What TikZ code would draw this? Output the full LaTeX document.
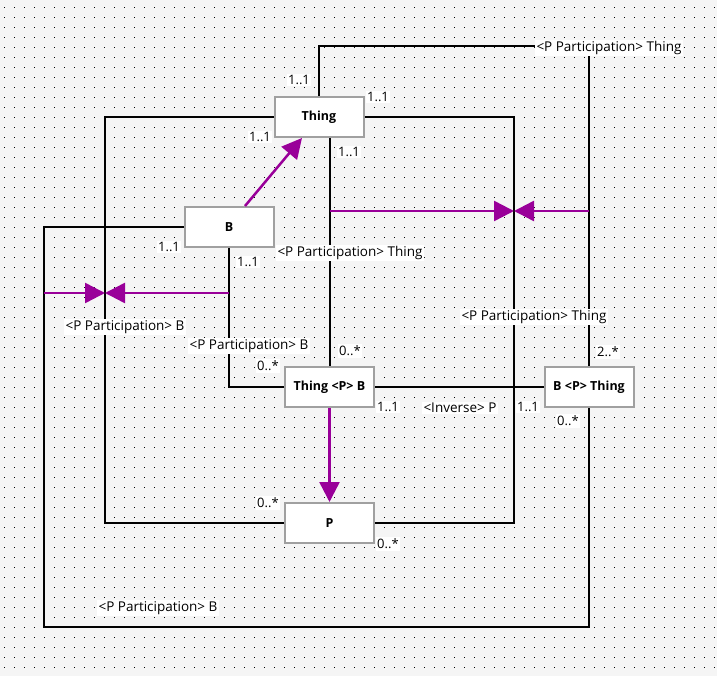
\documentclass[tikz,border=0pt]{standalone}
\usepackage{fontspec}
\setmainfont{Open Sans}
\usetikzlibrary{arrows.meta}

\definecolor{canvas}{RGB}{245,245,245}
\definecolor{assoc}{RGB}{153,0,153}
\definecolor{frame}{RGB}{160,160,160}

\tikzset{
  entity/.style={draw=frame,line width=2pt,fill=white,minimum width=89pt,minimum height=40pt,inner sep=0pt,font=\fontsize{12.5}{14}\selectfont\bfseries},
  mult/.style={fill=white,inner sep=1.5pt,font=\fontsize{13}{15}\selectfont},
  role/.style={fill=white,inner sep=1.5pt,font=\fontsize{13.5}{15}\selectfont},
  link/.style={draw=black,line width=2pt},
  inherit/.style={draw=assoc,line width=2.5pt,-{Triangle[length=20pt,width=20pt]}}
}

\begin{document}
\begin{tikzpicture}[x=1pt,y=-1pt]
           \fill[canvas] (0,0) rectangle (717,676);
           \useasboundingbox (0,0) rectangle (717,676);
           \foreach \gx in {4,14,...,714} {
             \foreach \gy in {7,17,...,667} {
               \fill[black] (\gx,\gy) rectangle ++(1,1);
             }
           }
           % entities
           \node[entity] (thing) at (319,117) {Thing};
           \node[entity] (b) at (229,227) {B};
           \node[entity] (tpb) at (329.5,387) {Thing <P> B};
           \node[entity] (bpt) at (589,387) {B <P> Thing};
           \node[entity] (p) at (329.5,523) {P};
           % junctions and corners
           \coordinate (tl) at (105,523);
           \coordinate (tr) at (514,523);
           \coordinate (ll) at (44,627);
           \coordinate (jr) at (514,211);
           \coordinate (jl) at (105,293);
           % black links
           \draw[link] (thing.north) -- ++(0,-50) -| (bpt.north);
           \draw[link] (thing.east) -| (tr) -- (p.east);
           \draw[link] (thing.west) -| (tl) -- (p.west);
           \draw[link] (tpb.north |- thing.south) -- (tpb.north);
           \draw[link] (b.west) -| (ll) -| (bpt.south);
           \draw[link] (b.south) |- (tpb.west);
           \draw[link] (tpb.east) -- (bpt.west);
           % purple arrows
           \draw[inherit] ([xshift=16pt]b.north) -- ([xshift=-17pt]thing.south);
           \draw[inherit] (tpb.north |- jr) -- (jr);
           \draw[inherit] (bpt.north |- jr) -- (jr);
           \draw[inherit] (ll |- jl) -- (jl);
           \draw[inherit] (b.south |- jl) -- (jl);
           \draw[inherit] (tpb.south) -- (p.north);
           % multiplicities
           \node[mult] at (299,80) {1..1};
           \node[mult] at (378,97) {1..1};
           \node[mult] at (260,137) {1..1};
           \node[mult] at (349,152) {1..1};
           \node[mult] at (169,247) {1..1};
           \node[mult] at (248,262) {1..1};
           \node[mult] at (350,351) {0..*};
           \node[mult] at (268,366) {0..*};
           \node[mult] at (388,407) {1..1};
           \node[mult] at (528,407) {1..1};
           \node[mult] at (608,352) {2..*};
           \node[mult] at (568,421) {0..*};
           \node[mult] at (268,503) {0..*};
           \node[mult] at (388,544) {0..*};
           % roles
           \node[role] at (609,48) {<P Participation> Thing};
           \node[role] at (350,253) {<P Participation> Thing};
           \node[role] at (534,317) {<P Participation> Thing};
           \node[role] at (125,327) {<P Participation> B};
           \node[role] at (249,346) {<P Participation> B};
           \node[role] at (460,408) {<Inverse> P};
           \node[role] at (158,608) {<P Participation> B};
        \end{tikzpicture}
\end{document}
